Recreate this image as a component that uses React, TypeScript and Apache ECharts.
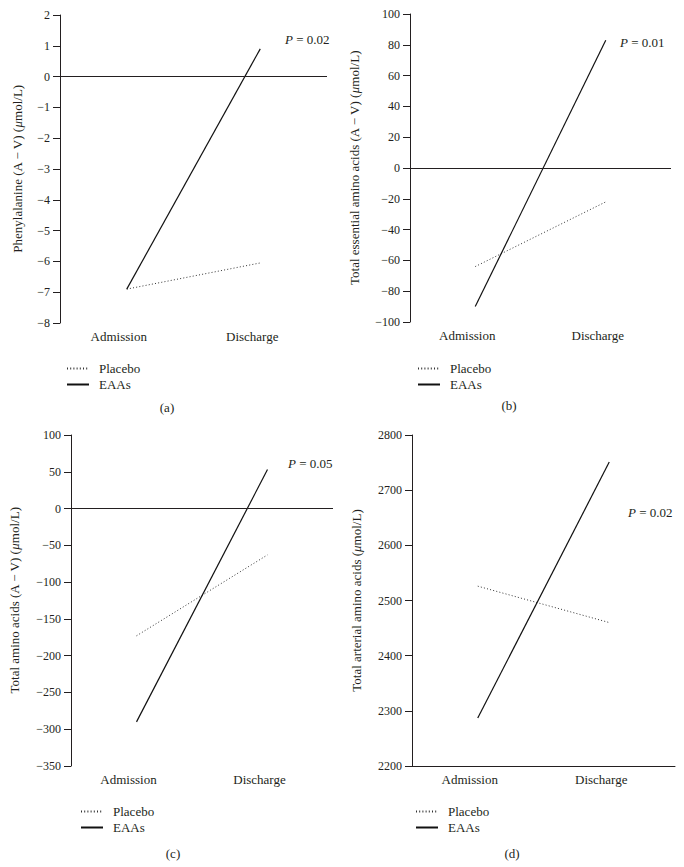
import React, { useEffect, useRef } from 'react';
import * as echarts from 'echarts';

const categories = ['Admission', 'Discharge'];
const seriesNames = ['Placebo', 'EAAs'];

// (a) Phenylalanine (A − V)
const pheTicks = { min: -8, max: 2, interval: 1 };
const phePlacebo = [-6.9, -6.05];
const pheEAAs = [-6.9, 0.9];

// (b) Total essential amino acids (A − V)
const eaaTicks = { min: -100, max: 100, interval: 20 };
const eaaPlacebo = [-64, -22];
const eaaEAAs = [-90, 83];

// (c) Total amino acids (A − V)
const taaTicks = { min: -350, max: 100, interval: 50 };
const taaPlacebo = [-173, -63];
const taaEAAs = [-290, 53];

// (d) Total arterial amino acids
const artTicks = { min: 2200, max: 2800, interval: 100 };
const artPlacebo = [2526, 2460];
const artEAAs = [2287, 2751];

const pValues = ['0.02', '0.01', '0.05', '0.02'];
const panelLetters = ['(a)', '(b)', '(c)', '(d)'];
const yNames = [
  'Phenylalanine (A − V) ({mu|μ}mol/L)',
  'Total essential amino acids (A − V) ({mu|μ}mol/L)',
  'Total amino acids (A − V) ({mu|μ}mol/L)',
  'Total arterial amino acids ({mu|μ}mol/L)',
];

const FONT = "'Liberation Serif', 'Times New Roman', serif";
const INK = '#231f20';

const panels = [
  { ticks: pheTicks, placebo: phePlacebo, eaas: pheEAAs, grid: { left: 60, top: 15, width: 267, height: 308 }, nameGap: 36, zeroLine: true, bottomAxis: false, p: { x: 285, y: 41 }, legend: { left: 66, top: 361 }, letter: { x: 167, y: 407 } },
  { ticks: eaaTicks, placebo: eaaPlacebo, eaas: eaaEAAs, grid: { left: 410, top: 14, width: 261, height: 308 }, nameGap: 49, zeroLine: true, bottomAxis: false, p: { x: 620, y: 44 }, legend: { left: 417, top: 361 }, letter: { x: 509, y: 405 } },
  { ticks: taaTicks, placebo: taaPlacebo, eaas: taaEAAs, grid: { left: 71, top: 435, width: 262, height: 331 }, nameGap: 50, zeroLine: true, bottomAxis: false, p: { x: 288, y: 465 }, legend: { left: 80, top: 804 }, letter: { x: 173, y: 853 } },
  { ticks: artTicks, placebo: artPlacebo, eaas: artEAAs, grid: { left: 412, top: 435, width: 263, height: 331 }, nameGap: 49, zeroLine: false, bottomAxis: true, p: { x: 628, y: 514 }, legend: { left: 415, top: 804 }, letter: { x: 512, y: 853 } },
];

export default function App() {
  const ref = useRef<HTMLDivElement>(null);
  useEffect(() => {
    if (!ref.current) return;
    const chart = echarts.init(ref.current, undefined, { renderer: 'svg' });

    const grid = panels.map((p) => ({ ...p.grid, containLabel: false }));
    const xAxis = panels.map((p, i) => ({
      type: 'category',
      gridIndex: i,
      data: categories,
      boundaryGap: true,
      axisLine: { show: p.bottomAxis, onZero: false, lineStyle: { color: INK, width: 1 } },
      axisTick: { show: false },
      axisLabel: {
        margin: 7,
        fontFamily: FONT,
        fontSize: 13,
        color: INK,
        padding: [0, 16, 0, 0],
      },
      splitLine: { show: false },
    }));
    const yAxis = panels.map((p, i) => ({
      type: 'value',
      gridIndex: i,
      min: p.ticks.min,
      max: p.ticks.max,
      interval: p.ticks.interval,
      name: yNames[i],
      nameLocation: 'middle',
      nameGap: p.nameGap,
      nameTextStyle: {
        fontFamily: FONT,
        fontSize: 13,
        color: INK,
        rich: { mu: { fontFamily: FONT, fontSize: 13, fontStyle: 'italic', color: INK } },
      },
      axisLine: { show: true, lineStyle: { color: INK, width: 1 } },
      axisTick: { show: true, length: 7, lineStyle: { color: INK, width: 1 } },
      axisLabel: {
        margin: 10,
        fontFamily: FONT,
        fontSize: 12,
        color: INK,
        formatter: (v: number) => String(v).replace('-', '−'),
      },
      splitLine: { show: false },
    }));

    const series: any[] = [];
    panels.forEach((p, i) => {
      series.push({
        name: seriesNames[0],
        type: 'line',
        xAxisIndex: i,
        yAxisIndex: i,
        data: p.placebo,
        symbol: 'none',
        lineStyle: { color: '#333', width: 1, type: [1, 2.2] },
        itemStyle: { color: '#333' },
      });
      series.push({
        name: seriesNames[1],
        type: 'line',
        xAxisIndex: i,
        yAxisIndex: i,
        data: p.eaas,
        symbol: 'none',
        lineStyle: { color: '#111', width: 1.2, type: 'solid' },
        itemStyle: { color: '#111' },
        markLine: p.zeroLine
          ? {
              silent: true,
              symbol: ['none', 'none'],
              label: { show: false },
              lineStyle: { color: INK, width: 1, type: 'solid' },
              data: [{ yAxis: 0 }],
            }
          : undefined,
      });
    });

    const legend = panels.map((p) => ({
      left: p.legend.left,
      top: p.legend.top,
      orient: 'vertical',
      padding: 0,
      itemGap: 1,
      itemWidth: 22,
      itemHeight: 10,
      selectedMode: false,
      data: seriesNames,
      itemStyle: { opacity: 0 },
      textStyle: { fontFamily: FONT, fontSize: 13, color: INK, lineHeight: 15, padding: [0, 0, 0, 5] },
    }));

    const graphic: any[] = [];
    panels.forEach((p, i) => {
      graphic.push({
        type: 'text',
        left: p.p.x,
        top: p.p.y - 8,
        style: {
          text: `{i|P} = ${pValues[i]}`,
          fontFamily: FONT,
          fontSize: 13,
          fill: INK,
          rich: { i: { fontFamily: FONT, fontSize: 13, fontStyle: 'italic', fill: INK } },
        },
      });
      graphic.push({
        type: 'text',
        x: p.letter.x,
        y: p.letter.y,
        style: {
          text: panelLetters[i],
          fontFamily: FONT,
          fontSize: 13,
          fill: INK,
          align: 'center',
          verticalAlign: 'middle',
        },
      });
    });

    chart.setOption({
      animation: false,
      backgroundColor: '#ffffff',
      grid,
      xAxis,
      yAxis,
      series,
      legend,
      graphic,
    });
    return () => chart.dispose();
  }, []);
  return (
    <div
      ref={ref}
      style={{ position: 'absolute', left: 0, top: 0, width: 684, height: 867, background: '#fff' }}
    />
  );
}
